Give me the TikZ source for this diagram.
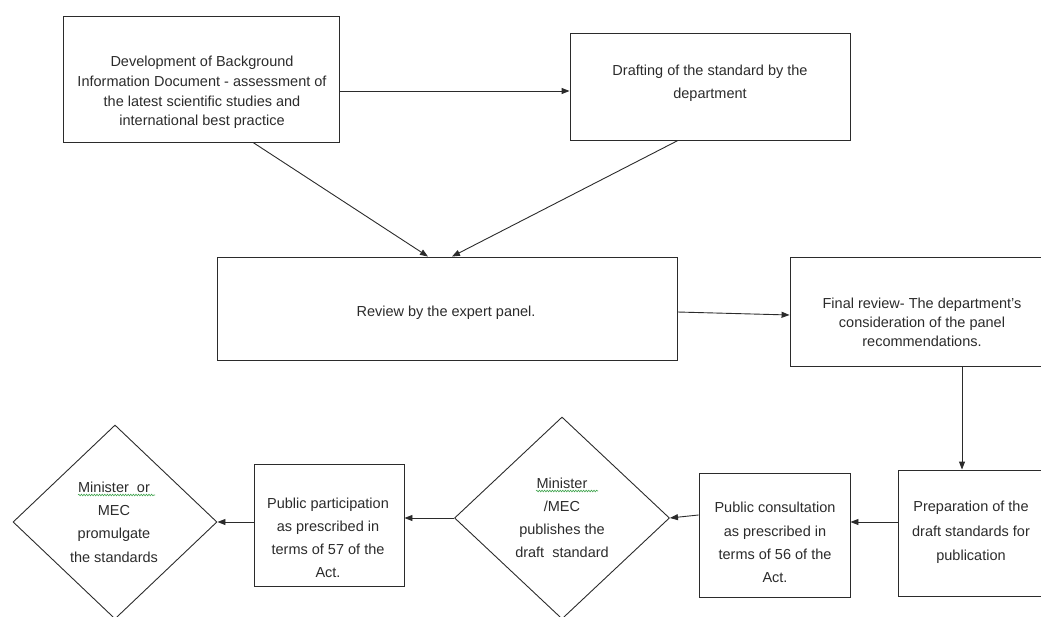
\documentclass[tikz,border=0pt]{standalone}
\usepackage{fontspec}
\setmainfont{Liberation Sans}
\usetikzlibrary{arrows.meta,shapes.geometric,decorations.pathmorphing}
\definecolor{ink}{HTML}{2B2B2B}
\definecolor{spellgreen}{HTML}{3FA34D}
\begin{document}
\begin{tikzpicture}[x=1pt,y=-1pt,
  box/.style={draw=ink,line width=0.9pt,rectangle,inner sep=0pt},
  dia/.style={draw=ink,line width=0.9pt,diamond,inner sep=0pt},
  txt/.style={text=ink,align=center,inner sep=0pt,font=\fontsize{14.5}{#1}\selectfont},
  txt/.default=23,
  arr/.style={draw=ink,line width=0.9pt,-{Triangle[length=8pt,width=6pt]}},
  spell/.style={draw=spellgreen,line width=0.6pt,decorate,decoration={snake,amplitude=0.8pt,segment length=2.6pt}}]
\useasboundingbox (0,0) rectangle (1041,617);
% shapes
\node[box,minimum width=276,minimum height=126] (b1) at (201,79) {};
\node[box,minimum width=280,minimum height=107] (b2) at (710,86.5) {};
\node[box,minimum width=460,minimum height=103] (rev) at (447,308.5) {};
\node[box,minimum width=262,minimum height=109] (fin) at (921,311.5) {};
\node[box,minimum width=154,minimum height=126] (prep) at (975,533) {};
\node[box,minimum width=151,minimum height=124] (pc) at (774.5,535) {};
\node[dia,minimum width=215,minimum height=202] (d2) at (562,518) {};
\node[box,minimum width=150,minimum height=122] (pp) at (329,525) {};
\node[dia,minimum width=204,minimum height=194] (d1) at (115,522) {};
% texts
\node[txt=19.7] (t1) at (202,92.5) {Development of Background\\Information Document - assessment of\\the latest scientific studies and\\international best practice};
\node[txt] (t2) at (710,83.5) {Drafting of the standard by the\\department};
\node[txt] (t3) at (446,313) {Review by the expert panel.};
\node[txt=19] (t4) at (922,322) {Final review- The department's\\consideration of the panel\\recommendations.};
\node[txt=24.5] (t5) at (971,532.5) {Preparation of the\\draft standards for\\publication};
\node[txt=23.3] (t6) at (775,542.5) {Public consultation\\as prescribed in\\terms of 56 of the\\Act.};
\node[txt=23] (t7) at (562,517.5) {Minister\\/MEC\\publishes the\\draft~~standard};
\node[txt=23] (t8) at (328,537.5) {Public participation\\as prescribed in\\terms of 57 of the\\Act.};
\node[txt=23.3] (t9) at (114,522) {Minister~~or\\MEC\\promulgate\\the standards};
% spell-check underlines
\coordinate (s1a) at (78,495); \coordinate (s1b) at (155,495);
\coordinate (s2a) at (536,491); \coordinate (s2b) at (598,491);
\draw[spell] (s1a) -- (s1b);
\draw[spell] (s2a) -- (s2b);
% connectors
\coordinate (y91) at (0,91);
\coordinate (x962) at (962,0);
\coordinate (y522) at (0,522);
\draw[arr] (b1.east |- y91) -- (b2.west |- y91);
\draw[arr] ([xshift=52]b1.south) -- ([xshift=-19]rev.north);
\draw[arr] ([xshift=-32]b2.south) -- ([xshift=5]rev.north);
\draw[arr] ([yshift=-3.5]rev.east) -- ([yshift=-3.5]fin.west);
\draw[arr] (fin.south -| x962) -- (prep.north -| x962);
\draw[arr] (prep.west |- y522) -- (pc.east |- y522);
\draw[arr] ([yshift=20]pc.west) -- (d2.east);
\draw[arr] (d2.west) -- (pp.east |- d2.west);
\draw[arr] (pp.west |- d1.east) -- (d1.east);
\end{tikzpicture}
\end{document}
